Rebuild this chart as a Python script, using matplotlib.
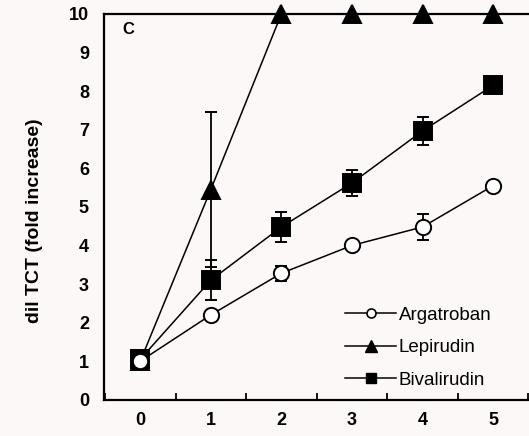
import matplotlib.pyplot as plt
from matplotlib.lines import Line2D
from matplotlib.ticker import MultipleLocator

plt.rcParams['font.family'] = ['Liberation Sans', 'DejaVu Sans']

# fold increase of dil TCT per concentration step
doses = [0, 1, 2, 3, 4, 5]
argatroban = [1.0, 2.2, 3.28, 4.0, 4.48, 5.55]
argatroban_err = [0.0, 0.0, 0.2, 0.0, 0.33, 0.0]
lepirudin = [1.0, 5.45, 10, 10, 10, 10]
lepirudin_err = [0.0, 2.02, 0.0, 0.0, 0.0, 0.0]
bivalirudin = [1.05, 3.1, 4.48, 5.62, 6.97, 8.15]
bivalirudin_err = [0.0, 0.52, 0.38, 0.33, 0.37, 0.15]

bg = '#fdf8f8'
fig = plt.figure(figsize=(5.29, 4.36), dpi=100, facecolor=bg)
ax = fig.add_axes([0.197, 0.083, 0.81, 0.885], facecolor=bg)

common = dict(color='black', lw=1.1, elinewidth=1.3, capsize=4, capthick=1.3,
              mec='black', mew=1.4, clip_on=False)
ax.errorbar(doses, lepirudin, yerr=lepirudin_err, marker='^', ms=13, mfc='black',
            zorder=3, **common)
ax.errorbar(doses, bivalirudin, yerr=bivalirudin_err, marker='s', ms=12.5, mfc='black',
            zorder=4, **common)
ax.errorbar(doses, argatroban, yerr=argatroban_err, marker='o', ms=11, mfc='white',
            zorder=5, **common)

ax.set_xlim(-0.51, 5.56)
ax.set_ylim(0, 10)
ax.xaxis.set_major_locator(MultipleLocator(1))
ax.xaxis.set_minor_locator(MultipleLocator(1, offset=0.5))
ax.yaxis.set_major_locator(MultipleLocator(1))
ax.tick_params(axis='x', which='major', length=0, pad=9, labelsize=13)
ax.tick_params(axis='x', which='minor', direction='in', length=5, width=1.3)
ax.tick_params(axis='y', length=0, pad=11, labelsize=13)
for lab in ax.get_xticklabels() + ax.get_yticklabels():
    lab.set_fontweight('bold')

for side in ['left', 'bottom', 'top']:
    ax.spines[side].set_linewidth(1.6)
ax.spines['right'].set_visible(False)

ax.set_ylabel('dil TCT (fold increase)', fontsize=14, fontweight='bold')
ax.yaxis.set_label_coords(-0.142, 0.464)
ax.text(0.042, 0.978, 'C', transform=ax.transAxes, fontsize=12, fontweight='bold',
        va='top')

# legend handles: line with a small marker, no error bars
handles = [
    Line2D([], [], color='black', lw=1.1, marker='o', ms=6.5, mfc='white', mec='black', mew=1.2),
    Line2D([], [], color='black', lw=1.1, marker='^', ms=8, mfc='black', mec='black'),
    Line2D([], [], color='black', lw=1.1, marker='s', ms=7, mfc='black', mec='black'),
]
labels = ['Argatroban', 'Lepirudin', 'Bivalirudin']
ax.legend(handles, labels, loc='upper left', bbox_to_anchor=(0.563, 0.241),
          frameon=False, fontsize=13.5, handlelength=2.7, handletextpad=0.15,
          labelspacing=0.81, borderpad=0, borderaxespad=0)

fig.savefig('out.png', dpi=100, facecolor=bg)
